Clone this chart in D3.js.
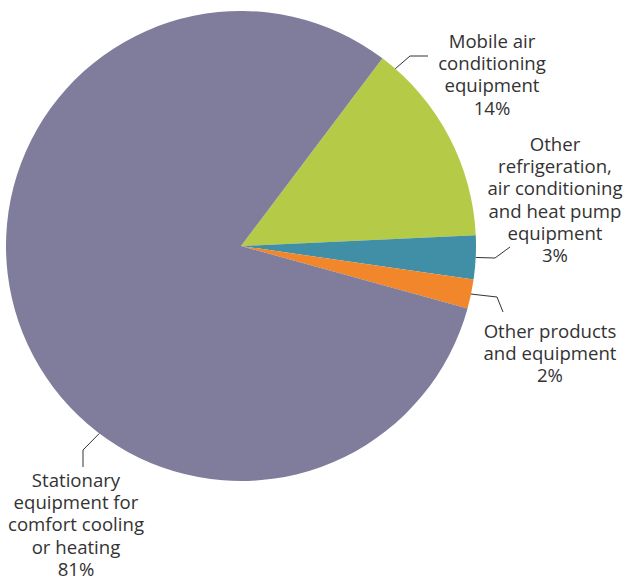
<!DOCTYPE html>
<html>
<head>
<meta charset="utf-8">
<script src="https://cdn.jsdelivr.net/npm/d3@7"></script>
<style>
  html, body { margin: 0; padding: 0; background: #fff; }
  svg { display: block; }
  text { font-family: "Open Sans", "Noto Sans", sans-serif; font-size: 18.6px; fill: #333; }
</style>
</head>
<body>
<svg id="chart" width="625" height="578"></svg>
<script>
const categories = [
  "Mobile air conditioning equipment",
  "Other refrigeration, air conditioning and heat pump equipment",
  "Other products and equipment",
  "Stationary equipment for comfort cooling or heating"
];
const values = [14, 3, 2, 81];
const valueLabels = ["14%", "3%", "2%", "81%"];
const labelLines = [
  ["Mobile air", "conditioning", "equipment", "14%"],
  ["Other", "refrigeration,", "air conditioning", "and heat pump", "equipment", "3%"],
  ["Other products", "and equipment", "2%"],
  ["Stationary", "equipment for", "comfort cooling", "or heating", "81%"]
];
const colors = ["#b5cb48", "#418ea7", "#f1862a", "#7f7c9c"];

const svg = d3.select("#chart");
const cx = 241, cy = 246, r = 235;
const startDeg = 37;

const pie = d3.pie().sort(null).value(d => d)
  .startAngle(startDeg * Math.PI / 180)
  .endAngle((startDeg + 360) * Math.PI / 180);
const arcs = pie(values);
const arc = d3.arc().innerRadius(0).outerRadius(r);

const g = svg.append("g").attr("transform", `translate(${cx},${cy})`);
g.selectAll("path").data(arcs).enter().append("path")
  .attr("d", arc)
  .attr("fill", (d, i) => colors[i]);

// label layout: anchor position along slice (fraction), elbow & end points, text block
const layout = [
  { frac: 0.08, elbow: [410, 56], end: [428, 56], tx: 492, ty: 48 },
  { frac: 0.5, elbow: [495, 258], end: [510, 247], tx: 555, ty: 151 },
  { frac: 0.5, elbow: [497, 297], end: [503, 312], tx: 550, ty: 338 },
  { frac: 0.383, elbow: [83, 450], end: [83, 467], tx: 76, ty: 487 }
];
const lh = 22.2;

arcs.forEach((a, i) => {
  const L = layout[i];
  const ang = a.startAngle + (a.endAngle - a.startAngle) * L.frac;
  const ax = cx + r * Math.sin(ang), ay = cy - r * Math.cos(ang);
  svg.append("polyline")
    .attr("points", [[ax, ay], L.elbow, L.end].map(p => p.join(",")).join(" "))
    .attr("fill", "none").attr("stroke", "#333").attr("stroke-width", 1);
  const t = svg.append("text").attr("text-anchor", "middle");
  labelLines[i].forEach((ln, j) => {
    t.append("tspan").attr("x", L.tx).attr("y", L.ty + j * lh).text(ln);
  });
});
</script>
</body>
</html>
